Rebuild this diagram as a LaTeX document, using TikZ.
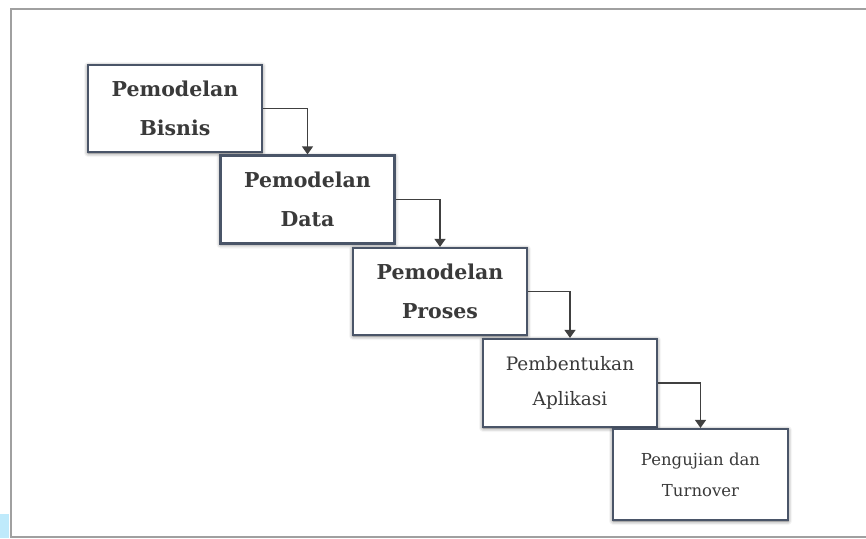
\documentclass[tikz,border=0pt]{standalone}
\usepackage{fontspec}
\setmainfont{DejaVu Serif}
\usetikzlibrary{arrows.meta,shadows.blur}
\definecolor{boxline}{HTML}{4A5568}
\definecolor{txt}{HTML}{3A3A3A}
\definecolor{frame}{HTML}{A0A0A0}
\begin{document}
\begin{tikzpicture}[x=1pt,y=-1pt,
  box/.style={draw=boxline, line width=2.2pt, fill=white, minimum width=174pt, minimum height=87pt,
    inner sep=0pt, align=center, text=txt,
    blur shadow={shadow xshift=0pt, shadow yshift=-1pt, shadow blur radius=4pt, shadow opacity=60}},
  bigtxt/.style={font=\bfseries\fontsize{20.5}{39}\selectfont},
  midtxt/.style={font=\fontsize{18.5}{35}\selectfont},
  smalltxt/.style={font=\fontsize{16.5}{31}\selectfont},
  arr/.style={draw=black!75, line width=1.3pt, -{Triangle[width=11pt,length=8pt]}}]
\useasboundingbox (0,0) rectangle (866,538);
\begin{scope}
\clip (0,0) rectangle (866,538);
\fill[cyan!25] (0,514) rectangle (9,538);
\draw[frame, line width=2.2pt] (11,537) rectangle (880,9);
\end{scope}
\node[box, bigtxt] (b1) at (175,108.5) {Pemodelan\\Bisnis};
\node[box, bigtxt, minimum height=88pt] (b2) at (307.5,199.5) {Pemodelan\\Data};
\node[box, bigtxt] (b3) at (440,291.5) {Pemodelan\\Proses};
\node[box, midtxt, minimum height=88pt] (b4) at (570,383) {Pembentukan\\Aplikasi};
\node[box, smalltxt, minimum width=175pt, minimum height=91pt] (b5) at (700.5,474.5) {Pengujian dan\\Turnover};
\draw[arr] (b1.east) -| (b2.north);
\draw[arr] (b2.east) -| (b3.north);
\draw[arr] (b3.east) -| (b4.north);
\draw[arr] (b4.east) -| (b5.north);
\end{tikzpicture}
\end{document}
